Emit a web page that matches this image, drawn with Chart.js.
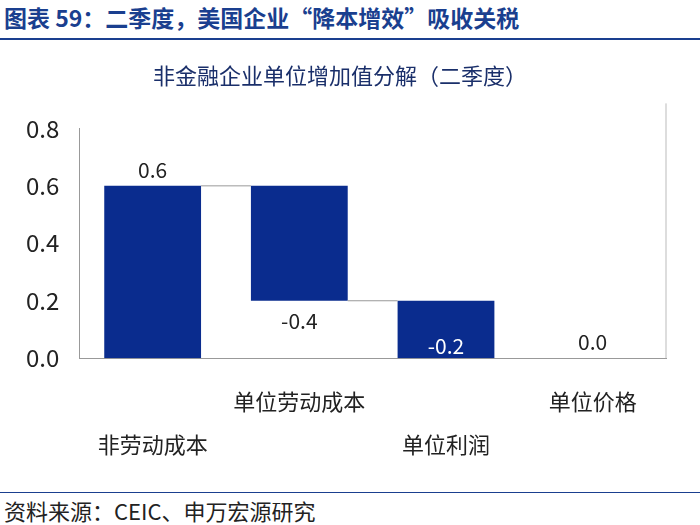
<!DOCTYPE html>
<html><head><meta charset="utf-8">
<script src="https://cdn.jsdelivr.net/npm/chart.js@4/dist/chart.umd.min.js"></script>
<style>
body{margin:0;width:700px;height:525px;background:#fff;font-family:"Noto Sans CJK SC",sans-serif;overflow:hidden;position:relative}
#hd{position:absolute;left:4px;top:0px;font-size:23px;font-weight:bold;color:#1a3f8f;}
#hl{position:absolute;left:0;top:38px;width:700px;height:2px;background:#1a3f8f}
#fl{position:absolute;left:0;top:492px;width:700px;height:1px;background:#1a3f8f}
#ft{position:absolute;left:4px;top:494px;font-size:22px;color:#222}
#wrap{position:absolute;left:0;top:44px;width:700px;height:444px}
</style></head><body>
<div id="hd">图表 59：二季度，美国企业“降本增效”吸收关税</div>
<div id="hl"></div>
<div id="wrap"><canvas id="c"></canvas></div>
<div id="fl"></div>
<div id="ft">资料来源：CEIC、申万宏源研究</div>
<script>
const categories=[["","非劳动成本"],["单位劳动成本",""],["","单位利润"],["单位价格",""]];
const values=[0.6,-0.4,-0.2,0.0];
const labels=["0.6","-0.4","-0.2","0.0"];
const yTicks=[0,0.2,0.4,0.6,0.8];
let run=0;const ranges=values.map((v,i)=>{if(i===values.length-1)return [0,v];const s=run;run+=v;return [s,run];});
const plug={id:'p',afterDatasetsDraw(ch){
 const ctx=ch.ctx,x=ch.scales.x,y=ch.scales.y,meta=ch.getDatasetMeta(0);
 ctx.save();ctx.strokeStyle='#999';ctx.lineWidth=1;
 for(let i=0;i<2;i++){const b=meta.data[i],n=meta.data[i+1];const yy=y.getPixelForValue(ranges[i][1]);
  ctx.beginPath();ctx.moveTo(b.x+b.width/2,yy);ctx.lineTo(n.x-n.width/2,yy);ctx.stroke();}
 ctx.font='21px "Noto Sans CJK SC"';ctx.textAlign='center';
 meta.data.forEach((b,i)=>{const top=Math.max(...ranges[i]),bot=Math.min(...ranges[i]);
  let yy,col='#222';
  if(i===0)yy=y.getPixelForValue(top)-8;
  else if(i===1)yy=y.getPixelForValue(bot)+28;
  else if(i===2){yy=y.getPixelForValue(bot)-4;col='#fff';}
  else yy=y.getPixelForValue(0)-8;
  ctx.fillStyle=col;ctx.fillText(labels[i],b.x,yy);});
 ctx.strokeStyle='#bbb';ctx.beginPath();ctx.moveTo(ch.chartArea.right,y.getPixelForValue(0.8)-25);ctx.lineTo(ch.chartArea.right,ch.chartArea.bottom);ctx.stroke();
 ctx.restore();}};
new Chart(document.getElementById('c'),{type:'bar',
data:{labels:categories,datasets:[{data:ranges,backgroundColor:'#0a2c8e',barPercentage:0.66,categoryPercentage:1}]},
options:{responsive:true,maintainAspectRatio:false,animation:false,
 layout:{padding:{left:14,right:34,top:8,bottom:0}},
 plugins:{legend:{display:false},tooltip:{enabled:false},
  title:{display:true,text:'非金融企业单位增加值分解（二季度）',color:'#1a2f6a',font:{size:22,family:'Noto Sans CJK SC',weight:'normal'},padding:{top:10,bottom:40}}},
 scales:{x:{grid:{display:false,drawTicks:false},border:{color:'#999'},ticks:{color:'#222',font:{size:22,family:'Noto Sans CJK SC',lineHeight:1.95},maxRotation:0,autoSkip:false,padding:22}},
  y:{min:0,max:0.8,grid:{display:false},border:{color:'#999'},afterBuildTicks:a=>{a.ticks=yTicks.map(v=>({value:v}))},
   ticks:{color:'#222',font:{size:24,family:'Noto Sans CJK SC'},padding:12,callback:v=>v.toFixed(1)}}}},
plugins:[plug]});
</script></body></html>
